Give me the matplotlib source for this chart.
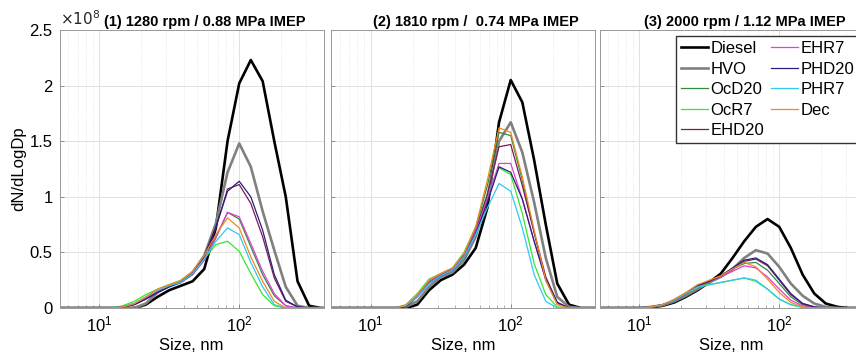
import matplotlib
matplotlib.use("Agg")
import matplotlib.pyplot as plt
from matplotlib.ticker import NullFormatter, LogLocator, FixedLocator

plt.rcParams['font.family'] = ['Liberation Sans', 'DejaVu Sans']

# particle size channels, nm
sizes = [5.2, 10.0, 12.1, 14.7, 17.8, 21.5, 26.1, 31.6, 38.3, 46.4, 56.2,
         68.1, 82.5, 100, 121, 147, 178, 215, 261, 316, 383, 400]

fuels = ["Diesel", "HVO", "OcD20", "OcR7", "EHD20", "EHR7", "PHD20", "PHR7", "Dec"]
colors = ["black", "#808080", "#2e8b45", "#33e633", "#7a1a5a", "#e040d0",
          "#2a1f7a", "#30c8f0", "#f08a20"]
widths = [1.9, 1.9, 0.9, 0.9, 0.9, 0.9, 0.9, 0.9, 0.9]

titles = ["(1) 1280 rpm / 0.88 MPa IMEP",
          "(2) 1810 rpm /  0.74 MPa IMEP",
          "(3) 2000 rpm / 1.12 MPa IMEP"]

# dN/dLogDp in units of 1e8, one list per fuel
p1 = {
    "Diesel": [0, 0, 0, 0, 0, 0.03, 0.10, 0.16, 0.20, 0.24, 0.35, 0.72, 1.50, 2.02, 2.23, 2.04, 1.50, 1.00, 0.24, 0.02, 0, 0],
    "HVO":    [0, 0, 0, 0, 0, 0.04, 0.14, 0.20, 0.24, 0.32, 0.47, 0.76, 1.22, 1.48, 1.27, 0.87, 0.52, 0.19, 0.02, 0, 0, 0],
    "OcD20":  [0, 0, 0, 0.01, 0.04, 0.09, 0.15, 0.20, 0.23, 0.30, 0.43, 0.63, 0.86, 0.80, 0.55, 0.30, 0.11, 0.02, 0, 0, 0, 0],
    "OcR7":   [0, 0, 0, 0.02, 0.06, 0.12, 0.17, 0.21, 0.24, 0.31, 0.44, 0.57, 0.60, 0.51, 0.31, 0.12, 0.02, 0, 0, 0, 0, 0],
    "EHD20":  [0, 0, 0, 0.01, 0.03, 0.08, 0.14, 0.19, 0.23, 0.31, 0.46, 0.72, 1.07, 1.11, 0.94, 0.64, 0.27, 0.06, 0.01, 0, 0, 0],
    "EHR7":   [0, 0, 0, 0.01, 0.04, 0.09, 0.15, 0.20, 0.23, 0.30, 0.43, 0.64, 0.86, 0.82, 0.58, 0.33, 0.13, 0.02, 0, 0, 0, 0],
    "PHD20":  [0, 0, 0, 0.01, 0.03, 0.08, 0.14, 0.19, 0.23, 0.31, 0.46, 0.73, 1.05, 1.14, 1.00, 0.70, 0.30, 0.07, 0.01, 0, 0, 0],
    "PHR7":   [0, 0, 0, 0.01, 0.04, 0.10, 0.16, 0.20, 0.23, 0.31, 0.44, 0.60, 0.72, 0.66, 0.41, 0.19, 0.03, 0, 0, 0, 0, 0],
    "Dec":    [0, 0, 0, 0.01, 0.04, 0.10, 0.17, 0.21, 0.25, 0.33, 0.47, 0.66, 0.81, 0.72, 0.46, 0.24, 0.06, 0, 0, 0, 0, 0],
}
p2 = {
    "Diesel": [0, 0, 0, 0, 0, 0.03, 0.16, 0.25, 0.30, 0.39, 0.54, 0.90, 1.67, 2.05, 1.85, 1.33, 0.75, 0.22, 0.03, 0, 0, 0],
    "HVO":    [0, 0, 0, 0, 0.01, 0.06, 0.19, 0.28, 0.32, 0.43, 0.64, 1.00, 1.50, 1.67, 1.40, 0.95, 0.45, 0.10, 0.01, 0, 0, 0],
    "OcD20":  [0, 0, 0, 0, 0.02, 0.11, 0.24, 0.30, 0.35, 0.48, 0.72, 1.10, 1.58, 1.55, 1.15, 0.68, 0.25, 0.04, 0, 0, 0, 0],
    "OcR7":   [0, 0, 0, 0, 0.03, 0.13, 0.26, 0.31, 0.36, 0.50, 0.73, 1.02, 1.26, 1.20, 0.85, 0.40, 0.12, 0.01, 0, 0, 0, 0],
    "EHD20":  [0, 0, 0, 0, 0.02, 0.11, 0.23, 0.30, 0.35, 0.48, 0.70, 1.02, 1.45, 1.47, 1.10, 0.68, 0.28, 0.05, 0, 0, 0, 0],
    "EHR7":   [0, 0, 0, 0, 0.02, 0.11, 0.23, 0.30, 0.35, 0.47, 0.69, 0.98, 1.30, 1.30, 0.98, 0.60, 0.25, 0.04, 0, 0, 0, 0],
    "PHD20":  [0, 0, 0, 0, 0.01, 0.10, 0.22, 0.29, 0.34, 0.46, 0.67, 0.95, 1.27, 1.22, 0.98, 0.60, 0.26, 0.05, 0, 0, 0, 0],
    "PHR7":   [0, 0, 0, 0, 0.02, 0.10, 0.22, 0.29, 0.34, 0.46, 0.66, 0.90, 1.12, 1.05, 0.72, 0.30, 0.06, 0, 0, 0, 0, 0],
    "Dec":    [0, 0, 0, 0, 0.02, 0.12, 0.25, 0.31, 0.36, 0.49, 0.73, 1.15, 1.62, 1.58, 1.18, 0.70, 0.25, 0.03, 0, 0, 0, 0],
}
p3 = {
    "Diesel": [0, 0, 0.005, 0.02, 0.05, 0.10, 0.16, 0.23, 0.31, 0.45, 0.60, 0.73, 0.80, 0.73, 0.54, 0.30, 0.13, 0.04, 0.01, 0, 0, 0],
    "HVO":    [0, 0, 0.01, 0.025, 0.06, 0.11, 0.17, 0.23, 0.28, 0.35, 0.45, 0.52, 0.49, 0.37, 0.22, 0.11, 0.04, 0.01, 0, 0, 0, 0],
    "OcD20":  [0, 0, 0.01, 0.03, 0.07, 0.13, 0.20, 0.24, 0.29, 0.35, 0.40, 0.41, 0.34, 0.22, 0.10, 0.03, 0, 0, 0, 0, 0, 0],
    "OcR7":   [0, 0, 0.01, 0.03, 0.07, 0.13, 0.19, 0.21, 0.23, 0.25, 0.27, 0.24, 0.17, 0.08, 0.03, 0.005, 0, 0, 0, 0, 0, 0],
    "EHD20":  [0, 0, 0.01, 0.03, 0.07, 0.13, 0.20, 0.24, 0.29, 0.35, 0.42, 0.44, 0.38, 0.25, 0.12, 0.04, 0.01, 0, 0, 0, 0, 0],
    "EHR7":   [0, 0, 0.01, 0.03, 0.07, 0.13, 0.20, 0.24, 0.28, 0.33, 0.38, 0.36, 0.28, 0.17, 0.07, 0.02, 0, 0, 0, 0, 0, 0],
    "PHD20":  [0, 0, 0.01, 0.03, 0.07, 0.13, 0.20, 0.24, 0.29, 0.36, 0.43, 0.45, 0.39, 0.26, 0.13, 0.04, 0.01, 0, 0, 0, 0, 0],
    "PHR7":   [0, 0, 0.01, 0.03, 0.07, 0.13, 0.19, 0.21, 0.23, 0.25, 0.27, 0.25, 0.17, 0.08, 0.03, 0.005, 0, 0, 0, 0, 0, 0],
    "Dec":    [0, 0, 0.01, 0.03, 0.08, 0.14, 0.21, 0.25, 0.29, 0.35, 0.41, 0.37, 0.26, 0.14, 0.05, 0.01, 0, 0, 0, 0, 0, 0],
}
panels = [p1, p2, p3]

fig = plt.figure(figsize=(8.56, 3.62), dpi=100)
lefts = [59.5 / 856, 331 / 856, 599.5 / 856]
w = 264 / 856
axes = [fig.add_axes([l, 54 / 362, w, 278 / 362]) for l in lefts]

for i, (ax, data) in enumerate(zip(axes, panels)):
    for name, c, lw in zip(fuels, colors, widths):
        ax.plot(sizes, [v * 1e8 for v in data[name]], color=c, lw=lw, label=name)
    ax.set_xscale("log")
    ax.set_xlim(5.2, 400)
    ax.set_ylim(0, 2.5e8)
    ax.yaxis.set_major_locator(FixedLocator([0, 0.5e8, 1e8, 1.5e8, 2e8, 2.5e8]))
    ax.xaxis.set_minor_locator(LogLocator(base=10, subs=range(2, 10)))
    ax.xaxis.set_minor_formatter(NullFormatter())
    ax.grid(True, which="major", color="0.88", lw=0.7)
    ax.grid(True, which="minor", axis="x", color="0.88", lw=0.6, ls=":")
    ax.set_axisbelow(True)
    for s in ax.spines.values():
        s.set_color("0.6")
        s.set_linewidth(0.7)
    ax.tick_params(direction="in", length=3, width=0.6, color="0.5", labelsize=12, pad=5)
    ax.tick_params(which="minor", direction="in", length=2, width=0.5, color="0.6")
    ax.set_xlabel("Size, nm", fontsize=12, labelpad=2)
    ax.set_title(titles[i], fontsize=10.5, fontweight="bold", x=0.55, pad=3)
    if i == 0:
        ax.set_yticklabels(["0", "0.5", "1", "1.5", "2", "2.5"])
        ax.set_ylabel("dN/dLogDp", fontsize=12, labelpad=2)
    else:
        ax.set_yticklabels([])

fig.text(60 / 856, 1 - 25 / 362, r"$\times10^{8}$", fontsize=11, color="0.15")

axes[2].legend(ncol=2, loc="upper left", bbox_to_anchor=(0.29, 0.978), fontsize=12,
               handlelength=1.6, handletextpad=0.15, columnspacing=0.45,
               labelspacing=0.33, borderpad=0.3, borderaxespad=0, fancybox=False,
               framealpha=1, edgecolor="0.2")

fig.savefig("out.png", dpi=100)
